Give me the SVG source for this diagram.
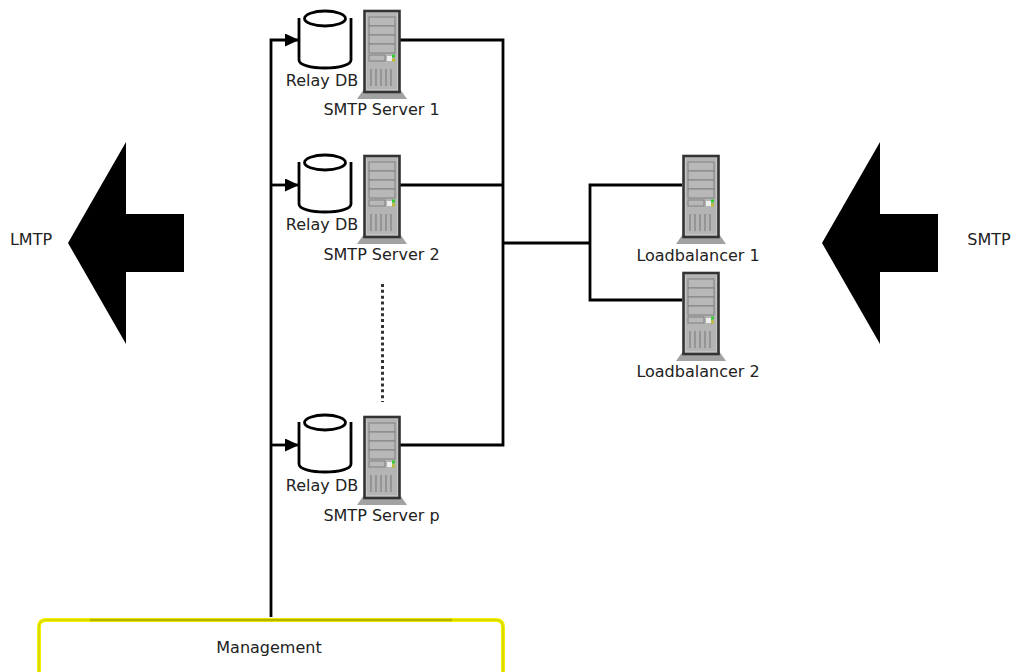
<svg xmlns="http://www.w3.org/2000/svg" width="1013" height="672" viewBox="0 0 1013 672">
<style>
text{font-family:"DejaVu Sans",sans-serif;font-size:16px;fill:#222;text-anchor:middle}
.w{fill:none;stroke:#000;stroke-width:2.8}
.db{fill:#fff;stroke:#000;stroke-width:2.8}
</style>
<defs>
<g id="srv">
<path d="M-25 88L-18 78H18L25 88Z" fill="#a2a2a2"/>
<rect x="-17.500" y="0" width="35" height="81" fill="#c4c4c4" stroke="#333" stroke-width="2.600"/>
<rect x="-15" y="2" width="30" height="76" fill="#b4b4b4"/>
<g fill="#b8b8b8" stroke="#808080" stroke-width="1">
<rect x="-13" y="6" width="26" height="9"/>
<rect x="-13" y="15" width="26" height="9"/>
<rect x="-13" y="24" width="26" height="9"/>
<rect x="-13" y="33" width="26" height="9"/>
<rect x="-13" y="44" width="16" height="6"/>
</g>
<rect x="5" y="45" width="5" height="5" fill="#eee"/>
<rect x="10" y="43.500" width="3" height="3" fill="#3c3"/>
<rect x="10" y="47.500" width="3" height="3" fill="#bb3"/>
<path d="M-11 58V75M-6 58V75M-1 58V75M4 58V75M9 58V75" stroke="#808080" stroke-width="1.200" fill="none"/>
</g>
<g id="db">
<path class="db" d="M-26 7V49C-26 54 -14 57 0 57C14 57 26 54 26 49V7"/>
<ellipse class="db" cx="0" cy="7.500" rx="20.500" ry="7.500"/>
</g>
<marker id="a" markerWidth="15" markerHeight="14" refX="13" refY="6.500" orient="auto" markerUnits="userSpaceOnUse"><path d="M0 0L14 6.500L0 13Z" fill="#000"/></marker>
</defs>
<g id="connectors">
<path class="w" d="M271 617V40H298" marker-end="url(#a)"/>
<path class="w" d="M271 185H298" marker-end="url(#a)"/>
<path class="w" d="M271 445H298" marker-end="url(#a)"/>
<path class="w" d="M400 40H503V445H400M400 185H503M503 243H590M682 185H590V300H682"/>
<path d="M382.500 284V402" fill="none" stroke="#333" stroke-width="3" stroke-dasharray="3 2.850"/>
</g>
<g id="smtp1"><use href="#db" x="325" y="11"/><use href="#srv" x="382" y="11"/><text x="322" y="86">Relay DB</text><text x="381.500" y="115">SMTP Server 1</text></g>
<g id="smtp2"><use href="#db" x="325" y="155"/><use href="#srv" x="382" y="156"/><text x="322" y="230">Relay DB</text><text x="381.500" y="260">SMTP Server 2</text></g>
<g id="smtpp"><use href="#db" x="325" y="415"/><use href="#srv" x="382" y="417"/><text x="322" y="491">Relay DB</text><text x="381.500" y="521">SMTP Server p</text></g>
<g id="lb1"><use href="#srv" x="701" y="156"/><text x="698" y="261">Loadbalancer 1</text></g>
<g id="lb2"><use href="#srv" x="701" y="273"/><text x="698" y="377">Loadbalancer 2</text></g>
<g id="arrowL"><path d="M68 243L126 142V214H184V272H126V344Z"/><text x="31" y="245">LMTP</text></g>
<g id="arrowR"><path d="M822 243L880 142V214H938V272H880V344Z"/><text x="989" y="245">SMTP</text></g>
<g id="management"><path d="M39 672V627Q39 620 46 620H496Q503 620 503 627V672" fill="#fff" stroke="#f4f400" stroke-width="4"/><path d="M39 672V627Q39 620 46 620H496Q503 620 503 627V672" fill="none" stroke="#c0c000" stroke-width="1"/><path d="M90 620H452" stroke="#b5b500" stroke-width="2.500"/><text x="269" y="653">Management</text></g>
</svg>
